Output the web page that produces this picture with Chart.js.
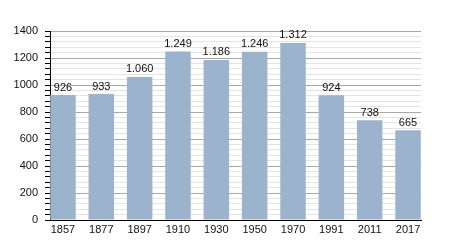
<!DOCTYPE html>
<html>
<head>
<meta charset="utf-8">
<script src="https://cdn.jsdelivr.net/npm/chart.js@4.4.1/dist/chart.umd.min.js"></script>
<style>
  body { margin: 0; background: #fff; }
  canvas { display: block; }
</style>
</head>
<body>
<canvas id="myChart" width="450" height="250"></canvas>
<script>
const years = ['1857', '1877', '1897', '1910', '1930', '1950', '1970', '1991', '2011', '2017'];
const population = [926, 933, 1060, 1249, 1186, 1246, 1312, 924, 738, 665];
const yMax = 1400;

function fmt(v) {
  return String(v).replace(/\B(?=(\d{3})+(?!\d))/g, '.');
}

// bars sit flush with both ends of the plot, so widen the category range a bit
const stretchX = {
  id: 'stretchX',
  afterLayout(chart) {
    const x = chart.scales.x;
    const d = 6.2;
    x._startPixel = x.left - d;
    x._endPixel = x.right + d;
    x._length = x._endPixel - x._startPixel;
  }
};

const valueLabels = {
  id: 'valueLabels',
  afterDatasetsDraw(chart) {
    const ctx = chart.ctx;
    const meta = chart.getDatasetMeta(0);
    ctx.save();
    ctx.font = '11px "Liberation Sans", Arial, sans-serif';
    ctx.fillStyle = '#111';
    ctx.textAlign = 'center';
    ctx.textBaseline = 'bottom';
    meta.data.forEach(function (bar, i) {
      ctx.fillText(fmt(population[i]), bar.x, bar.y - 2);
    });
    ctx.restore();
  }
};

Chart.defaults.font.family = '"Liberation Sans", Arial, sans-serif';
Chart.defaults.font.size = 11;
Chart.defaults.color = '#111';

const data = {
  labels: years,
  datasets: [{
    data: population,
    backgroundColor: '#9bb3cc',
    barPercentage: 0.665,
    categoryPercentage: 1.0
  }]
};

const config = {
  type: 'bar',
  data: data,
  plugins: [stretchX, valueLabels],
  options: {
    responsive: false,
    animation: false,
    layout: { padding: { top: 31, right: 29, left: 0, bottom: 0 } },
    plugins: { legend: { display: false }, tooltip: { enabled: false } },
    scales: {
      x: {
        grid: { display: false, drawTicks: false },
        border: { display: true, color: '#000', width: 1 },
        ticks: { padding: 3, maxRotation: 0, autoSkip: false },
        afterFit: function (s) { s.height = 30; }
      },
      y: {
        min: 0,
        max: yMax,
        border: { display: true, color: '#000', width: 1 },
        grid: {
          color: function (c) { return c.tick && c.tick.value % 200 === 0 ? '#a8a8a8' : '#e4e4e4'; },
          tickColor: '#000',
          tickLength: 5
        },
        ticks: {
          stepSize: 40,
          autoSkip: false,
          padding: 7,
          callback: function (v) { return v % 200 === 0 ? v : ''; }
        },
        afterFit: function (s) { s.width = 50; }
      }
    }
  }
};

const myChart = new Chart(document.getElementById('myChart'), config);
</script>
</body>
</html>
